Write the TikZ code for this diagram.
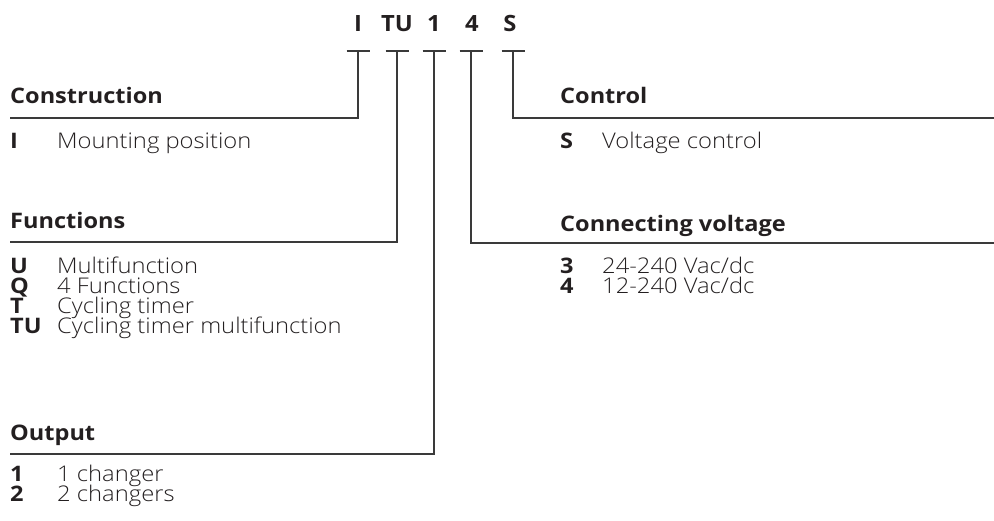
\documentclass[tikz,border=0pt]{standalone}
\usepackage{fontspec}
\setmainfont{Open Sans}[FakeStretch=1.1]
\newfontfamily\codef{Open Sans}[FakeStretch=1.06]
\IfFontExistsTF{Open Sans Light}{\newfontfamily\lightf{Open Sans Light}[FakeStretch=1.1]}{\newfontfamily\lightf{Open Sans}[FakeStretch=1.1]}
\definecolor{ink}{HTML}{231F20}
\definecolor{linec}{HTML}{3A3A3A}
\tikzset{
  title/.style={anchor=base west, inner sep=0pt, text=ink, font=\fontsize{21.4}{22}\selectfont\bfseries},
  keyt/.style={anchor=base west, inner sep=0pt, text=ink, font=\fontsize{21.4}{22}\selectfont\bfseries},
  desc/.style={anchor=base west, inner sep=0pt, text=ink, font=\fontsize{21.6}{22}\lightf},
  code/.style={anchor=base, inner sep=0pt, text=ink, font=\fontsize{22.4}{24}\codef\bfseries},
  conn/.style={draw=linec, line width=1.1pt},
}
\begin{document}
\begin{tikzpicture}[x=1pt,y=-1pt]
\useasboundingbox (0,0) rectangle (994,521);
% code letters
\node[code] (cI) at (358,32) {I};
\node[code] (cTU) at (397,32) {TU};
\node[code] (c1) at (434,32) {1};
\node[code] (c4) at (472,32) {4};
\node[code] (cS) at (510,32) {S};
% tick coordinates
\coordinate (tI) at (358,51);
\coordinate (tTU) at (397,51);
\coordinate (t1) at (434,51);
\coordinate (t4) at (471,51);
\coordinate (tS) at (513,51);
\foreach \t in {tI,tTU,t1,t4,tS}{\draw[conn] ([xshift=-11.5pt]\t) -- ([xshift=11.5pt]\t);}
% line ends
\coordinate (eI) at (10,118);
\coordinate (eTU) at (10,242);
\coordinate (e1) at (10,454);
\coordinate (e4) at (994,243);
\coordinate (eS) at (994,118);
\draw[conn] (tI) |- (eI);
\draw[conn] (tTU) |- (eTU);
\draw[conn] (t1) |- (e1);
\draw[conn] (t4) |- (e4);
\draw[conn] (tS) |- (eS);
% Construction
\node[title] (hCon) at (10,103.5) {Construction};
\node[keyt] (kI) at (10,149) {I};
\node[desc] (dI) at (57,149) {Mounting position};
% Functions
\node[title] (hFun) at (10,228.5) {Functions};
\node[keyt] (kU) at (10,274) {U};
\node[desc] (dU) at (57,274) {Multifunction};
\node[keyt] (kQ) at (10,294) {Q};
\node[desc] (dQ) at (57,294) {4 Functions};
\node[keyt] (kT) at (10,314) {T};
\node[desc] (dT) at (57,314) {Cycling timer};
\node[keyt] (kTU) at (10,334) {TU};
\node[desc] (dTU) at (57,334) {Cycling timer multifunction};
% Output
\node[title] (hOut) at (10,441) {Output};
\node[keyt] (k1) at (10,481.5) {1};
\node[desc] (d1) at (57,481.5) {1 changer};
\node[keyt] (k2) at (10,501.5) {2};
\node[desc] (d2) at (57,501.5) {2 changers};
% Control
\node[title] (hCtl) at (560,103.5) {Control};
\node[keyt] (kS) at (560,149) {S};
\node[desc] (dS) at (602,149) {Voltage control};
% Connecting voltage
\node[title] (hCv) at (560,232) {Connecting voltage};
\node[keyt] (k3) at (560,273.5) {3};
\node[desc] (d3) at (602,273.5) {24-240 Vac/dc};
\node[keyt] (k4) at (560,293.5) {4};
\node[desc] (d4) at (602,293.5) {12-240 Vac/dc};
\end{tikzpicture}
\end{document}
